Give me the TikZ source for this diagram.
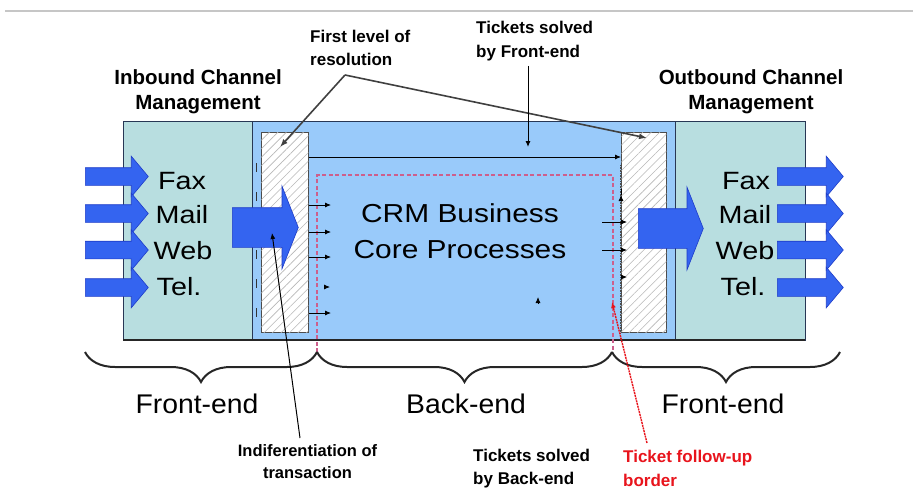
\documentclass[tikz,border=0pt]{standalone}
\usepackage{fontspec}
\setmainfont{Liberation Sans}
\newfontfamily\widefont[FakeStretch=1.15]{Liberation Sans}
\newfontfamily\midfont[FakeStretch=1.05]{Liberation Sans}
\usetikzlibrary{shapes.arrows,patterns.meta,decorations.pathreplacing,arrows.meta}
\definecolor{chanfill}{RGB}{184,222,224}
\definecolor{corefill}{RGB}{153,202,250}
\definecolor{arrblue}{RGB}{52,100,240}
\definecolor{arredge}{RGB}{30,60,200}
\definecolor{boxline}{RGB}{40,55,85}
\definecolor{pinkline}{RGB}{205,95,140}
\definecolor{redtxt}{RGB}{232,20,28}
\tikzset{
  ann/.style={font=\bfseries\fontsize{17}{23.5}\selectfont, inner sep=0pt},
  headlbl/.style={font=\bfseries\fontsize{20.5}{25}\selectfont, align=center, inner sep=0pt},
  chanlbl/.style={font=\widefont\fontsize{25}{30}\selectfont, inner sep=0pt},
  endlbl/.style={font=\midfont\fontsize{27}{30}\selectfont, inner sep=0pt},
  hatchbox/.style={draw=black!70, line width=0.6pt, fill=white, inner sep=0pt,
     postaction={pattern={Lines[angle=45,distance=6pt,line width=0.6pt]}, pattern color=black!28}},
  smallarr/.style={-{Latex[length=6pt,width=5pt]}, line width=0.8pt, black},
  chanarrow/.style={single arrow, draw=arredge, line width=0.6pt, fill=arrblue, inner xsep=0pt,
     inner ysep=8.5pt, minimum width=0pt, single arrow head extend=11.5pt,
     single arrow tip angle=100, anchor=tail},
  bigarrow/.style={single arrow, draw=arredge, line width=0.6pt, fill=arrblue, inner xsep=0pt,
     inner ysep=19.5pt, minimum width=0pt, single arrow head extend=21.5pt,
     single arrow tip angle=137, anchor=tail, minimum height=66pt},
  bracestyle/.style={decorate, decoration={brace, mirror, amplitude=30pt}, line width=2pt, black!85},
}
\begin{document}
\begin{tikzpicture}[x=1pt,y=-1pt]
\useasboundingbox (0,0) rectangle (913,495);
% top rule
\draw[gray!45, line width=1.5pt] (5,11) -- (913,11);
% boxes
\fill[chanfill] (123,121) rectangle (252,340);
\fill[corefill] (252,121) rectangle (675,340);
\fill[chanfill] (675,121) rectangle (805,340);
\draw[boxline, line width=0.8pt] (123,121) rectangle (805,340);
\draw[boxline, line width=0.8pt] (252,121) -- (252,340) (675,121) -- (675,340);
\draw[black!85, line width=2.5pt] (123,340) -- (805,340);
% hatched columns
\node[hatchbox, minimum width=47pt, minimum height=200pt, anchor=north west] (lh) at (261,132) {};
\node[hatchbox, minimum width=45pt, minimum height=200pt, anchor=north west] (rh) at (621,132) {};
\draw[black!80, line width=1pt, dash pattern=on 9pt off 20pt] (256,163) -- (256,330);
\draw[black!70, line width=0.6pt, densely dotted] (620,165) -- (620,340);
% ticket follow-up border
\draw[pinkline, line width=1.1pt, dash pattern=on 4pt off 2.5pt] (317,352) -- (317,175) -- (613,175) -- (613,352);
% horizontal line front-end solved
\draw[smallarr] (lh.east |- 0,157) -- (rh.west |- 0,157);
% small arrows left
\draw[smallarr] (lh.east |- 0,205) -- (331,205);
\draw[smallarr] (lh.east |- 0,232) -- (331,232);
\draw[smallarr] (lh.east |- 0,257) -- (331,257);
\draw[smallarr] (324,287) -- (330,287);
\draw[smallarr] (lh.east |- 0,313) -- (331,313);
% small arrows right
\draw[smallarr] (621,195) -- (rh.west |- 0,195);
\draw[smallarr] (602,222) -- ([xshift=6pt]rh.west |- 0,222);
\draw[smallarr] (602,250) -- ([xshift=6pt]rh.west |- 0,250);
\draw[smallarr] (621,277) -- ([xshift=6pt]rh.west |- 0,277);
\draw[smallarr] (538,304) -- (538,297);
% channel arrows in
\node[chanarrow, minimum height=63pt] (ia1) at (85,176.5) {};
\node[chanarrow, minimum height=63pt] (ia2) at (85,213.5) {};
\node[chanarrow, minimum height=63pt] (ia3) at (85,250) {};
\node[chanarrow, minimum height=63pt] (ia4) at (85,287.5) {};
% channel arrows out
\node[chanarrow, minimum height=66pt] (oa1) at (777,176.5) {};
\node[chanarrow, minimum height=66pt] (oa2) at (777,213.5) {};
\node[chanarrow, minimum height=66pt] (oa3) at (777,250) {};
\node[chanarrow, minimum height=66pt] (oa4) at (777,287.5) {};
% big arrows
\node[bigarrow] (bl) at (232,227.5) {};
\node[bigarrow, minimum height=65pt] (br) at (638,228.5) {};
% channel labels
\node[chanlbl] (fax1) at (182,181) {Fax};
\node[chanlbl] (mail1) at (182,215) {Mail};
\node[chanlbl] (web1) at (183,251) {Web};
\node[chanlbl] (tel1) at (179,287) {Tel.};
\node[chanlbl] (fax2) at (746,181) {Fax};
\node[chanlbl] (mail2) at (745,215) {Mail};
\node[chanlbl] (web2) at (745,251) {Web};
\node[chanlbl] (tel2) at (743,287) {Tel.};
% core text
\node[font=\widefont\fontsize{26}{36}\selectfont, align=center, inner sep=0pt] (core) at (460,231) {CRM Business\\Core Processes};
% headings
\node[headlbl] (inbound) at (198,92) {Inbound Channel\\Management};
\node[headlbl] (outbound) at (751,92) {Outbound Channel\\Management};
% annotations
\node[ann, align=left, anchor=west] (first) at (310,48) {First level of\\resolution};
\node[ann, align=left, anchor=west] (tsf) at (476,41) {Tickets solved\\by Front-end};
\node[ann, align=center, font=\bfseries\fontsize{16.5}{22}\selectfont] (ind) at (307.5,461.5) {Indiferentiation of\\transaction};
\node[ann, align=left, anchor=west] (tsb) at (473,468.5) {Tickets solved\\by Back-end};
\node[ann, align=left, anchor=west, text=redtxt] (tfb) at (623,468.5) {Ticket follow-up\\border};
% braces
\coordinate (b0) at (85,352);
\coordinate (b1) at (317,352);
\coordinate (b2) at (612,352);
\coordinate (b3) at (840,352);
\draw[bracestyle] (b0) -- (b1);
\draw[bracestyle] (b1) -- (b2);
\draw[bracestyle] (b2) -- (b3);
\node[endlbl] (fe1) at (197,404) {Front-end};
\node[endlbl] (be) at (466,404) {Back-end};
\node[endlbl] (fe2) at (723,404) {Front-end};
% connectors
\coordinate (apex) at (345,75);
\coordinate (lhtip) at (280,147);
\coordinate (rhtip) at (647,138);
\draw[black!75, line width=1.6pt, -{Latex[length=8pt,width=6pt]}] (apex) -- (lhtip);
\draw[black!75, line width=1.6pt, -{Latex[length=8pt,width=6pt]}] (apex) -- (rhtip);
\coordinate (tsfstart) at (528,66);
\coordinate (tsftip) at (528,147);
\draw[smallarr, line width=1pt] (tsfstart) -- (tsftip);
\coordinate (indstart) at (300,438);
\coordinate (indtip) at (272,233);
\draw[smallarr, line width=1pt] (indstart) -- (indtip);
\coordinate (redstart) at (647,443);
\coordinate (redtip) at (612,302);
\draw[redtxt, line width=1.4pt, dash pattern=on 2pt off 0.8pt, -{Latex[length=6pt,width=5pt]}] (redstart) -- (redtip);
\end{tikzpicture}
\end{document}
